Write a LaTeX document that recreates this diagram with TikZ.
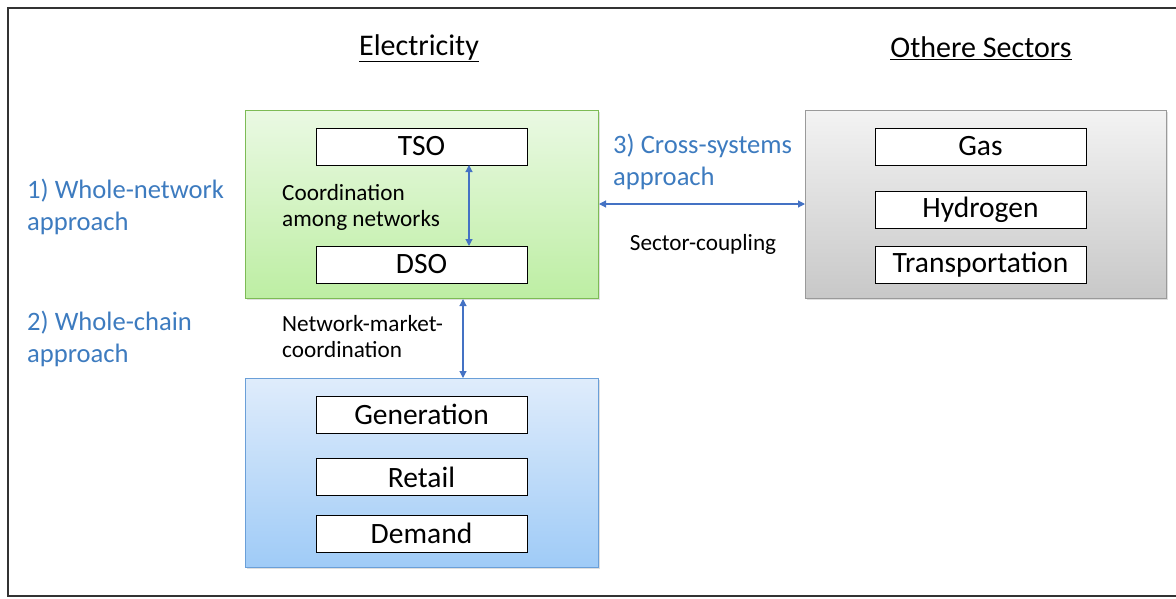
\documentclass[tikz,border=0pt]{standalone}
\usepackage{fontspec}
\setmainfont{Carlito}
\usetikzlibrary{arrows.meta,shadows}
\definecolor{linkblue}{HTML}{4472C4}
\definecolor{labelblue}{HTML}{3D7BBF}
\definecolor{grnedge}{HTML}{7DBB55}
\definecolor{grntop}{HTML}{EAF9E3}
\definecolor{grnbot}{HTML}{BDEEA3}
\definecolor{bluedge}{HTML}{6A9FD8}
\definecolor{bluetop}{HTML}{DFECFB}
\definecolor{bluebot}{HTML}{9FCBF7}
\definecolor{grayedge}{HTML}{9A9A9A}
\definecolor{graytop}{HTML}{F3F3F3}
\definecolor{graybot}{HTML}{C8C8C8}
\begin{document}
\begin{tikzpicture}[x=1pt,y=-1pt,
  group/.style={draw, line width=1pt, drop shadow={opacity=0.25,shadow xshift=1pt,shadow yshift=-1.5pt}},
  item/.style={draw=black, line width=1pt, fill=white, minimum width=211pt, minimum height=37pt,
    inner sep=0pt, font=\fontsize{29.5}{34}\selectfont},
  approach/.style={anchor=west, align=left, inner sep=0pt, text=labelblue,
    font=\fontsize{26.6}{32}\selectfont},
  note/.style={align=left, inner sep=0pt, font=\fontsize{23.2}{26}\selectfont},
  title/.style={inner sep=0pt, font=\fontsize{30}{34}\selectfont},
  link/.style={draw=linkblue, line width=1.1pt, {Triangle[width=7pt,length=7pt]}-{Triangle[width=7pt,length=7pt]}}]
\useasboundingbox (0,0) rectangle (1176,598);
% outer frame (right side runs past the page edge)
\draw[line width=2pt, draw=black!80] (8,8) rectangle (1190,596);

% section titles
\node[title] (telec) at (419,48) {\underline{Electricity}};
\node[title] (tother) at (981,48) {\underline{Othere Sectors}};

% electricity networks group
\node[group, draw=grnedge, top color=grntop, bottom color=grnbot,
  minimum width=353pt, minimum height=188pt, anchor=north west, inner sep=0pt] (net) at (245,110) {};
\node[item] (tso) at (421.5,146.5) {TSO};
\node[item] (dso) at (421.5,264.5) {DSO};
\node[note, anchor=west] (coord) at (282,207) {Coordination\\among networks};

% market chain group
\node[group, draw=bluedge, top color=bluetop, bottom color=bluebot,
  minimum width=353pt, minimum height=189pt, anchor=north west, inner sep=0pt] (chain) at (245,378) {};
\node[item] (gen) at (421.5,414.5) {Generation};
\node[item] (ret) at (421.5,477) {Retail};
\node[item] (dem) at (421.5,533.5) {Demand};

% other sectors group
\node[group, draw=grayedge, top color=graytop, bottom color=graybot,
  minimum width=361pt, minimum height=188pt, anchor=north west, inner sep=0pt] (sect) at (805,110) {};
\node[item] (gas) at (980.5,146.5) {Gas};
\node[item] (hyd) at (980.5,209.5) {Hydrogen};
\node[item] (trans) at (980.5,264.5) {Transportation};

% approach labels
\node[approach] (a1) at (27,207) {1) Whole-network\\approach};
\node[approach] (a2) at (27,339) {2) Whole-chain\\approach};
\node[approach] (a3) at (613,162) {3) Cross-systems\\approach};

\node[note, anchor=west] (nmc) at (282,337) {Network-market-\\coordination};
\node[note] (sc) at (703,244) {Sector-coupling};

% coordination links
\coordinate (tsob) at (469,165);
\coordinate (dsot) at (469,246);
\draw[link] (tsob) -- (dsot);
\draw[link] (net.south -| 463,0) -- (chain.north -| 463,0);
\draw[link] (net.east |- 0,204) -- (sect.west |- 0,204);
\end{tikzpicture}
\end{document}
